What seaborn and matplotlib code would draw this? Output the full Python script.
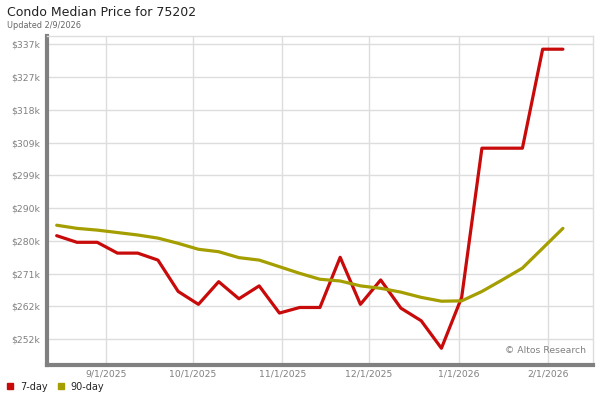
import matplotlib
matplotlib.use("Agg")
import matplotlib.pyplot as plt
import matplotlib.dates as mdates
from matplotlib.lines import Line2D
import seaborn as sns
import pandas as pd

# weekly points (values in $k)
dates = pd.date_range("2025-08-15", periods=26, freq="7D")
price_7day = [281.9, 280.0, 280.0, 276.9, 276.9, 274.9, 265.9, 262.2, 268.7, 263.8,
              267.5, 259.7, 261.3, 261.3, 275.7, 262.2, 269.2, 261.1, 257.5, 249.6,
              264.2, 307.0, 307.0, 307.0, 335.4, 335.4]
price_90day = [284.9, 284.0, 283.5, 282.8, 282.1, 281.2, 279.7, 278.0, 277.3, 275.6,
               274.9, 273.0, 271.1, 269.4, 268.9, 267.5, 266.8, 265.7, 264.2, 263.1,
               263.2, 265.9, 269.2, 272.6, 278.3, 284.0]
series_names = ["7-day", "90-day"]
colors = {"7-day": "#c80a0a", "90-day": "#a59e00"}
y_ticks = [252.2 + 9.4 * i for i in range(10)]
x_ticks = pd.to_datetime(["2025-09-01", "2025-10-01", "2025-11-01",
                          "2025-12-01", "2026-01-01", "2026-02-01"])

df = pd.concat([
    pd.DataFrame({"date": dates, "price": price_7day, "series": "7-day"}),
    pd.DataFrame({"date": dates, "price": price_90day, "series": "90-day"}),
])

sns.set_style("white")
fig = plt.figure(figsize=(6, 4), dpi=100)
ax = fig.add_axes([0.078, 0.0875, 0.910, 0.8235])

sns.lineplot(data=df, x="date", y="price", hue="series", palette=colors,
             linewidth=2.3, legend=False, ax=ax)

ax.set_xlim(pd.Timestamp("2025-08-11 14:00"), pd.Timestamp("2026-02-16 08:00"))
ax.set_ylim(244.8, 339.3)
ax.set_yticks(y_ticks)
ax.set_yticklabels([f"${round(v)}k" for v in y_ticks])
ax.set_xticks(x_ticks)
ax.xaxis.set_major_formatter(
    matplotlib.ticker.FuncFormatter(lambda v, p: f"{mdates.num2date(v).month}/1/{mdates.num2date(v).year}"))
ax.grid(True, color="#dddddd", linewidth=1)
ax.set_axisbelow(True)
ax.set_xlabel("")
ax.set_ylabel("")
ax.tick_params(axis="both", length=0, labelsize=6.7, labelcolor="#808080")
ax.tick_params(axis="y", pad=5)
ax.tick_params(axis="x", pad=3)

for side in ["left", "bottom"]:
    ax.spines[side].set_color("#808080")
    ax.spines[side].set_linewidth(3)
for side in ["top", "right"]:
    ax.spines[side].set_color("#dddddd")
    ax.spines[side].set_linewidth(1)

ax.text(0.988, 0.03, "© Altos Research", transform=ax.transAxes,
        ha="right", va="bottom", fontsize=6.7, color="#808080")

fig.text(0.012, 0.968, "Condo Median Price for 75202", fontsize=9,
         color="#222222", va="center")
fig.text(0.012, 0.937, "Updated 2/9/2026", fontsize=5.9,
         color="#666666", va="center")

handles = [Line2D([], [], marker="s", linestyle="", markersize=4.5,
                  color=colors[s], label=s) for s in series_names]
fig.legend(handles=handles, loc="center left", bbox_to_anchor=(-0.006, 13.3 / 400),
           ncol=2, frameon=False, fontsize=7, handletextpad=0.5,
           columnspacing=0.9, handlelength=1.0, borderpad=0.4)

fig.savefig("out.png", dpi=100)
